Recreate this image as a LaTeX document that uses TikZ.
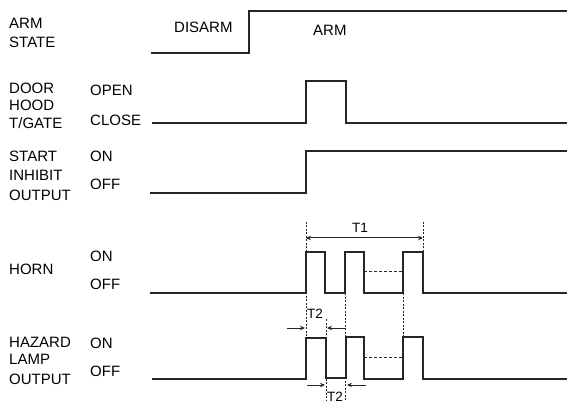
\documentclass[tikz,border=0pt]{standalone}
\usepackage{fontspec}
\setmainfont{Liberation Sans}
\usetikzlibrary{arrows.meta}
\begin{document}
\begin{tikzpicture}[x=1pt,y=-1pt,
  lbl/.style={anchor=base west, inner sep=0pt, font=\fontsize{15}{15}\selectfont},
  tlbl/.style={anchor=base, inner sep=0pt, font=\fontsize{13.5}{13.5}\selectfont},
  sig/.style={line width=1.3pt, draw=black!85, line join=miter},
  guide/.style={line width=1pt, draw=black!85, dash pattern=on 2pt off 1.5pt},
  hold/.style={line width=1pt, draw=black!85, dash pattern=on 3pt off 2pt},
  dimarrow/.style={line width=1pt, draw=black!85, -{Stealth[length=5pt,width=4.5pt]}},
  dimboth/.style={line width=1pt, draw=black!85, {Stealth[length=5pt,width=4.5pt]}-{Stealth[length=5pt,width=4.5pt]}}]
\useasboundingbox (0,0) rectangle (567,403);
% left labels
\node[lbl] (arm1) at (9,28.7) {ARM};
\node[lbl] (arm2) at (9,47.7) {STATE};
\node[lbl] (door1) at (9,93.5) {DOOR};
\node[lbl] (door2) at (9,110.5) {HOOD};
\node[lbl] (door3) at (9,128.5) {T/GATE};
\node[lbl] (st1) at (9,161.5) {START};
\node[lbl] (st2) at (9,181) {INHIBIT};
\node[lbl] (st3) at (9,200.5) {OUTPUT};
\node[lbl] (horn) at (9,274.5) {HORN};
\node[lbl] (hz1) at (9,347.5) {HAZARD};
\node[lbl] (hz2) at (9,364.5) {LAMP};
\node[lbl] (hz3) at (9,384) {OUTPUT};
% level labels
\node[lbl] (open) at (90,95.5) {OPEN};
\node[lbl] (close) at (90,125.5) {CLOSE};
\node[lbl] (ston) at (90,161.5) {ON};
\node[lbl] (stoff) at (90,189.5) {OFF};
\node[lbl] (hon) at (90,261.5) {ON};
\node[lbl] (hoff) at (90,289.5) {OFF};
\node[lbl] (zon) at (90,348.5) {ON};
\node[lbl] (zoff) at (90,376.5) {OFF};
\node[lbl] (disarm) at (174,32.7) {DISARM};
\node[lbl] (armst) at (313,36) {ARM};
% signals
\draw[sig] (151,53) -- (249,53) -- (249,11) -- (567,11);
\draw[sig] (152,123) -- (306,123) -- (306,81) -- (346,81) -- (346,123) -- (567,123);
\draw[sig] (150,193) -- (306,193) -- (306,151) -- (567,151);
\draw[sig] (150,293) -- (306,293) -- (306,252) -- (325,252) -- (325,293) -- (345,293) -- (345,252) -- (364,252) -- (364,293) -- (403,293) -- (403,252) -- (423,252) -- (423,293) -- (567,293);
\draw[sig] (152,379) -- (306,379) -- (306,338) -- (326,338) -- (326,378) -- (346,378) -- (346,337) -- (364,337) -- (364,379) -- (403,379) -- (403,337) -- (423,337) -- (423,379) -- (567,379);
% repeated-pulse placeholders
\draw[hold] (364,271) -- (403,271);
\draw[hold] (364,357) -- (403,357);
% guides
\draw[guide] (306,222) -- (306,338);
\draw[guide] (423,222) -- (423,252);
\draw[guide] (326,319) -- (326,400);
\draw[guide] (345,293) -- (345,400);
\draw[guide] (403,293) -- (403,337);
% T1
\coordinate (t1a) at (306,238);
\coordinate (t1b) at (423,238);
\draw[dimboth] (t1a) -- (t1b);
\node[tlbl] (t1) at (360,233) {T1};
% T2 top
\coordinate (t2a0) at (287,328);
\coordinate (t2a1) at (305,328);
\coordinate (t2b0) at (345,328);
\coordinate (t2b1) at (327,328);
\draw[dimarrow] (t2a0) -- (t2a1);
\draw[dimarrow] (t2b0) -- (t2b1);
\node[tlbl] (t2top) at (315,318) {T2};
% T2 bottom
\coordinate (t2c0) at (307,385);
\coordinate (t2c1) at (325,385);
\coordinate (t2d0) at (366,385);
\coordinate (t2d1) at (347,385);
\draw[dimarrow] (t2c0) -- (t2c1);
\draw[dimarrow] (t2d0) -- (t2d1);
\node[tlbl] (t2bot) at (335,401.5) {T2};
\end{tikzpicture}
\end{document}
